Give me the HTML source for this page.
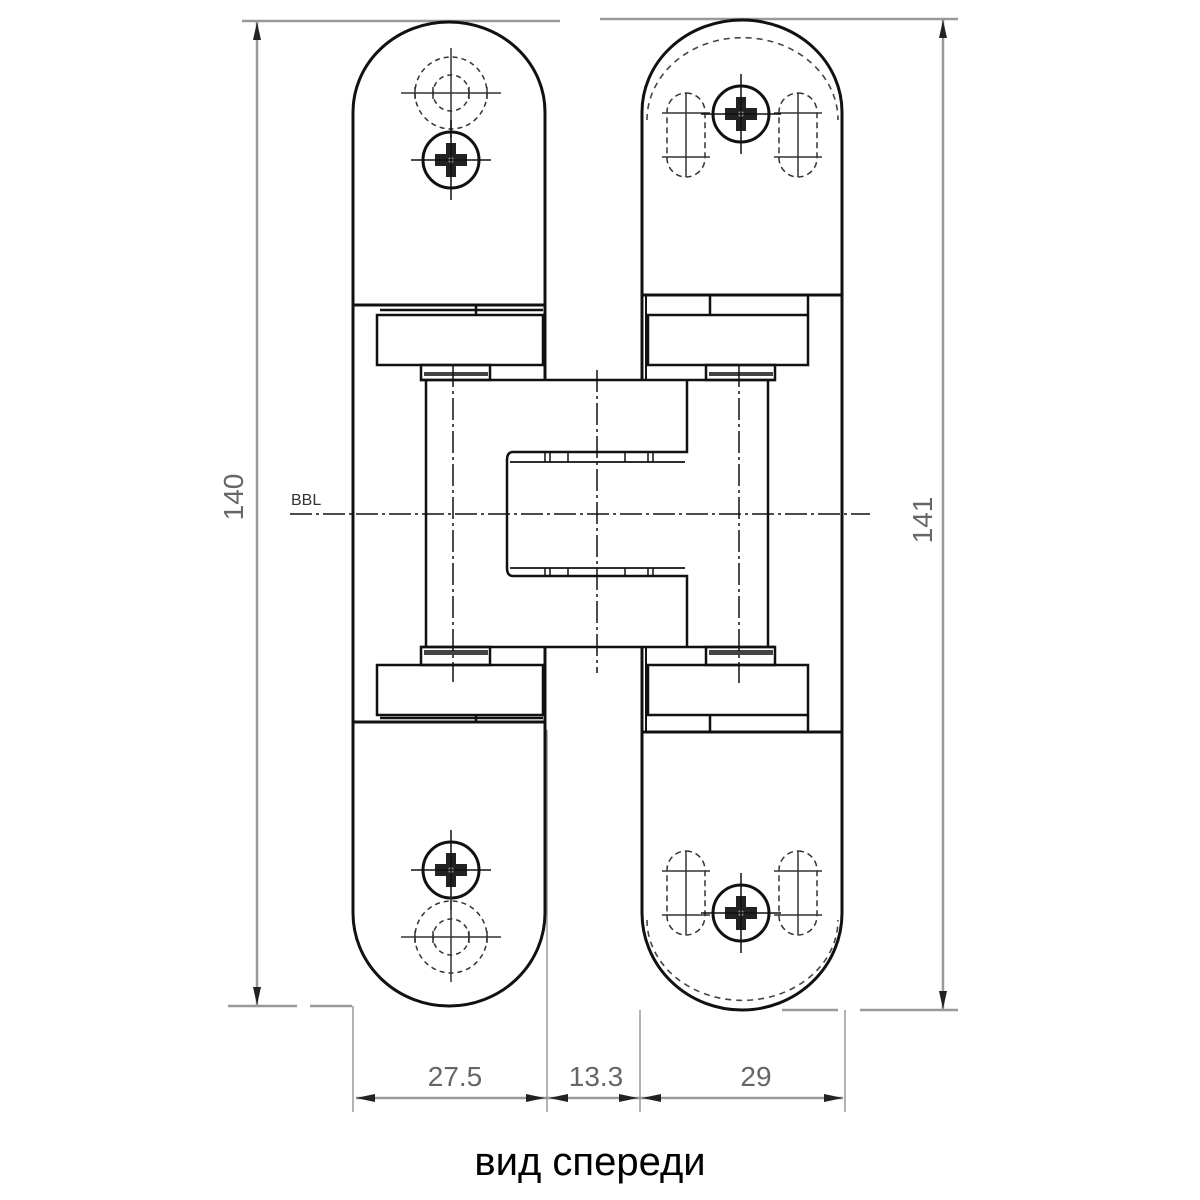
<!DOCTYPE html>
<html><head><meta charset="utf-8"><style>
html,body{margin:0;padding:0;background:#fff;width:1200px;height:1200px;overflow:hidden}
svg{display:block}
</style></head><body>
<svg width="1200" height="1200" viewBox="0 0 1200 1200" xmlns="http://www.w3.org/2000/svg">
<defs>
<g id="screw">
  <circle cx="0" cy="0" r="28" fill="none" stroke="#111" stroke-width="3"/>
  <path d="M-5,-17 H5 V-6 H16 V6 H5 V17 H-5 V6 H-16 V-6 H-5 Z" fill="#222"/>
  <circle cx="0" cy="0" r="3" fill="#888"/>
  <line x1="-40" y1="0" x2="40" y2="0" stroke="#111" stroke-width="1.5"/>
  <line x1="0" y1="-40" x2="0" y2="40" stroke="#111" stroke-width="1.5"/>
</g>
<g id="dhole" fill="none" stroke="#333" stroke-width="1.5">
  <circle cx="0" cy="0" r="36" stroke-dasharray="5,4"/>
  <circle cx="0" cy="0" r="18" stroke-dasharray="5,4"/>
  <line x1="-50" y1="0" x2="50" y2="0"/>
  <line x1="0" y1="-45" x2="0" y2="45"/>
  <line x1="-18" y1="-6" x2="-18" y2="6"/><line x1="18" y1="-6" x2="18" y2="6"/>
  <line x1="-36" y1="-6" x2="-36" y2="6"/><line x1="36" y1="-6" x2="36" y2="6"/>
</g>
<g id="slot" fill="none" stroke="#333" stroke-width="1.5">
  <rect x="-19" y="-42" width="38" height="84" rx="19" stroke-dasharray="6,4"/>
  <line x1="0" y1="-42" x2="0" y2="42"/>
  <line x1="-24" y1="-22" x2="24" y2="-22"/>
  <line x1="-24" y1="22" x2="24" y2="22"/>
</g>
</defs>

<!-- dimension / extension lines -->
<g stroke="#999" stroke-width="2.5" fill="none">
  <line x1="242" y1="21" x2="560" y2="21"/>
  <line x1="600" y1="19" x2="958" y2="19"/>
  <line x1="228" y1="1006" x2="297" y2="1006"/>
  <line x1="310" y1="1006" x2="352" y2="1006"/>
  <line x1="782" y1="1010" x2="838" y2="1010"/>
  <line x1="860" y1="1010" x2="958" y2="1010"/>
  <line x1="257" y1="22" x2="257" y2="1005"/>
  <line x1="943" y1="20" x2="943" y2="1009"/>
  <line x1="356" y1="1098" x2="843" y2="1098"/>
</g>
<g stroke="#999" stroke-width="1.5">
  <line x1="353" y1="1006" x2="353" y2="1112"/>
  <line x1="547" y1="730" x2="547" y2="1112"/>
  <line x1="640" y1="1010" x2="640" y2="1112"/>
  <line x1="845" y1="1010" x2="845" y2="1112"/>
</g>
<g fill="#222">
  <polygon points="257,22 253,40 261,40"/>
  <polygon points="257,1005 253,987 261,987"/>
  <polygon points="943,20 939,38 947,38"/>
  <polygon points="943,1009 939,991 947,991"/>
  <polygon points="356,1098 375,1094 375,1102"/>
  <polygon points="545,1098 526,1094 526,1102"/>
  <polygon points="549,1098 568,1094 568,1102"/>
  <polygon points="638,1098 619,1094 619,1102"/>
  <polygon points="642,1098 661,1094 661,1102"/>
  <polygon points="843,1098 824,1094 824,1102"/>
</g>
<g font-family="Liberation Sans, sans-serif" fill="#666" font-size="28">
  <text x="455" y="1086" text-anchor="middle">27.5</text>
  <text x="596" y="1086" text-anchor="middle">13.3</text>
  <text x="756" y="1086" text-anchor="middle">29</text>
  <text transform="translate(243,497) rotate(-90)" text-anchor="middle">140</text>
  <text transform="translate(932,520) rotate(-90)" text-anchor="middle">141</text>
</g>
<text x="291" y="505" font-family="Liberation Sans, sans-serif" font-size="16" fill="#333">BBL</text>

<!-- leaves outline -->
<g fill="none" stroke="#111" stroke-width="3">
  <!-- left leaf -->
  <path d="M353,305 L353,112 A96,90 0 0 1 545,112 L545,305 Z"/>
  <line x1="353" y1="305" x2="353" y2="722"/>
  <line x1="545" y1="305" x2="545" y2="380"/>
  <line x1="545" y1="647" x2="545" y2="722"/>
  <path d="M353,722 L353,913 A96,93 0 0 0 545,913 L545,722 Z"/>
  <!-- right leaf -->
  <path d="M642,295 L642,112 A100,92 0 0 1 842,112 L842,295 Z"/>
  <line x1="842" y1="295" x2="842" y2="732"/>
  <line x1="642" y1="295" x2="642" y2="380"/>
  <line x1="646" y1="295" x2="646" y2="380" stroke-width="2"/>
  <line x1="642" y1="647" x2="642" y2="732"/>
  <line x1="646" y1="647" x2="646" y2="732" stroke-width="2"/>
  <path d="M642,732 L642,913 A100,97 0 0 0 842,913 L842,732 Z"/>
</g>
<g fill="none" stroke="#111" stroke-width="2.5">
  <!-- upper blocks -->
  <rect x="377" y="315" width="166" height="50"/>
  <line x1="380" y1="310" x2="543" y2="310"/>
  <line x1="476" y1="305" x2="476" y2="315"/>
  <rect x="648" y="315" width="160" height="50"/>
  <line x1="710" y1="295" x2="710" y2="315"/>
  <line x1="808" y1="295" x2="808" y2="315"/>
  <rect x="421" y="365" width="69" height="15"/>
  <rect x="706" y="365" width="69" height="15"/>
  <!-- lower blocks -->
  <rect x="377" y="665" width="166" height="50"/>
  <line x1="380" y1="718" x2="543" y2="718"/>
  <line x1="476" y1="715" x2="476" y2="722"/>
  <rect x="648" y="665" width="160" height="50"/>
  <line x1="710" y1="715" x2="710" y2="732"/>
  <line x1="808" y1="715" x2="808" y2="732"/>
  <rect x="421" y="647" width="69" height="18"/>
  <rect x="706" y="647" width="69" height="18"/>
  <!-- central body -->
  <line x1="420" y1="380" x2="775" y2="380"/>
  <line x1="420" y1="647" x2="775" y2="647"/>
  <line x1="426" y1="380" x2="426" y2="647"/>
  <line x1="768" y1="380" x2="768" y2="647"/>
  <path d="M687,380 L687,452 L513,452 Q507,452 507,460 L507,568 Q507,576 513,576 L687,576 L687,647"/>
  <line x1="510" y1="462" x2="685" y2="462" stroke-width="1.8"/>
  <line x1="510" y1="568" x2="685" y2="568" stroke-width="1.8"/>
</g>
<g fill="#444">
  <rect x="424" y="372" width="64" height="4"/>
  <rect x="709" y="372" width="64" height="4"/>
  <rect x="424" y="650" width="64" height="5"/>
  <rect x="709" y="650" width="64" height="5"/>
</g>
<g stroke="#111" stroke-width="1.5">
  <line x1="545" y1="453" x2="545" y2="462"/><line x1="550" y1="453" x2="550" y2="462"/><line x1="568" y1="453" x2="568" y2="462"/>
  <line x1="625" y1="453" x2="625" y2="462"/><line x1="648" y1="453" x2="648" y2="462"/><line x1="653" y1="453" x2="653" y2="462"/>
  <line x1="545" y1="568" x2="545" y2="577"/><line x1="550" y1="568" x2="550" y2="577"/><line x1="568" y1="568" x2="568" y2="577"/>
  <line x1="625" y1="568" x2="625" y2="577"/><line x1="648" y1="568" x2="648" y2="577"/><line x1="653" y1="568" x2="653" y2="577"/>
</g>

<!-- center lines -->
<g stroke="#111" stroke-width="1.5" stroke-dasharray="22,4,3,4" fill="none">
  <line x1="290" y1="514" x2="870" y2="514"/>
  <line x1="453" y1="365" x2="453" y2="682"/>
  <line x1="597" y1="370" x2="597" y2="673"/>
  <line x1="739" y1="365" x2="739" y2="683"/>
</g>

<!-- screws and holes -->
<use href="#dhole" x="451" y="93"/>
<use href="#screw" x="451" y="160"/>
<use href="#screw" x="451" y="870"/>
<use href="#dhole" x="451" y="937"/>
<use href="#slot" x="686" y="135"/>
<use href="#slot" x="798" y="135"/>
<use href="#screw" x="741" y="114"/>
<use href="#slot" x="686" y="893"/>
<use href="#slot" x="798" y="893"/>
<use href="#screw" x="741" y="913"/>
<g fill="none" stroke="#444" stroke-width="1.6" stroke-dasharray="6,5">
  <path d="M647,120 A95,82 0 0 1 838,120"/>
  <path d="M647,920 A95,80 0 0 0 838,920"/>
</g>

<text x="590" y="1175" text-anchor="middle" font-family="Liberation Sans, sans-serif" font-size="40" fill="#000">вид спереди</text>
</svg>
</body></html>
